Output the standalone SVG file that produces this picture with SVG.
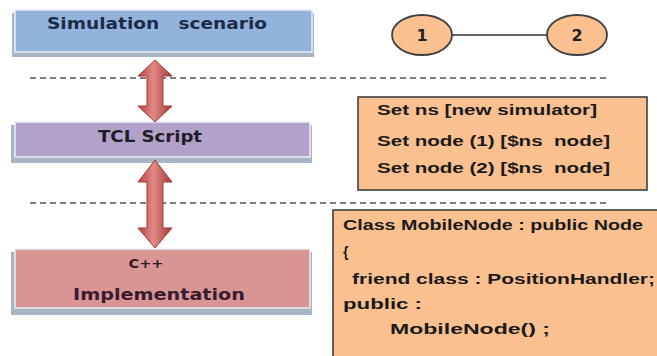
<svg xmlns="http://www.w3.org/2000/svg" width="657" height="356" viewBox="0 0 657 356">
  <defs>
    <linearGradient id="arrowFill" x1="0" y1="0" x2="1" y2="0">
      <stop offset="0" stop-color="#b8413f"/>
      <stop offset="0.45" stop-color="#e08a88"/>
      <stop offset="1" stop-color="#a83835"/>
    </linearGradient>
    <style>
      text { white-space: pre; }
      .layer-shadow { fill: #a7b6c4; }
      .layer { stroke: #e9eef4; stroke-width: 1.5; }
      .sep { stroke: #555; stroke-width: 1.6; stroke-dasharray: 6 4; fill: none; }
      .arrow { fill: url(#arrowFill); stroke: #a33a37; stroke-width: 1; stroke-linejoin: round; }
      .code-box { fill: #fac090; stroke: #3f3f3f; stroke-width: 1.6; }
      .node-shape { fill: #fac090; stroke: #404040; stroke-width: 1.8; }
      .label { font-family: "DejaVu Sans", Verdana, sans-serif; font-weight: bold; text-anchor: middle; }
      .code { font-family: "Liberation Sans", Arial, sans-serif; font-weight: bold; font-size: 14px; fill: #1a1a1a; }
      .num { font-family: "DejaVu Sans", Verdana, sans-serif; font-weight: bold; font-size: 16px; fill: #222; text-anchor: middle; }
    </style>
  </defs>

  <rect width="657" height="356" fill="#ffffff"/>

  <!-- layer separators -->
  <g id="separators">
    <line class="sep" x1="30" y1="78" x2="607" y2="78"/>
    <line class="sep" x1="30" y1="203" x2="607" y2="203"/>
  </g>

  <!-- layers -->
  <g id="simulation-scenario">
    <rect class="layer-shadow" x="12" y="13" width="302" height="44"/>
    <rect class="layer" x="15" y="10" width="297" height="42" fill="#93b3dc"/>
    <text class="label" x="157" y="29" font-size="15" fill="#1d2b4a" textLength="220" lengthAdjust="spacingAndGlyphs">Simulation   scenario</text>
  </g>

  <g id="tcl-script">
    <rect class="layer-shadow" x="11" y="125" width="301" height="38"/>
    <rect class="layer" x="15" y="122" width="295" height="35" fill="#b2a1c8"/>
    <text class="label" x="150" y="142" font-size="15" fill="#1e1e2a" textLength="104" lengthAdjust="spacingAndGlyphs">TCL Script</text>
  </g>

  <g id="cpp-implementation">
    <rect class="layer-shadow" x="11" y="252" width="301" height="63"/>
    <rect class="layer" x="15" y="249" width="295" height="59" fill="#d99594"/>
    <text class="label" x="146" y="268" font-size="13" fill="#2f1a26" textLength="35" lengthAdjust="spacingAndGlyphs">C++</text>
    <text class="label" x="159" y="300" font-size="15" fill="#3a1a2f" textLength="172" lengthAdjust="spacingAndGlyphs">Implementation</text>
  </g>

  <!-- two-way arrows between layers and the link between nodes -->
  <g id="connectors">
    <polygon class="arrow" points="155,60 172,76 163,76 163,106 172,106 155,122 138,106 147,106 147,76 138,76"/>
    <polygon class="arrow" points="155,160 172,182 163,182 163,228 172,228 155,248 138,228 147,228 147,182 138,182"/>
    <line x1="452" y1="35" x2="547" y2="35" stroke="#333" stroke-width="1.5"/>
  </g>

  <!-- network nodes -->
  <g id="node-1">
    <ellipse class="node-shape" cx="422" cy="35" rx="30" ry="20"/>
    <text class="num" x="422" y="41">1</text>
  </g>
  <g id="node-2">
    <ellipse class="node-shape" cx="577" cy="35" rx="30" ry="20"/>
    <text class="num" x="577" y="41">2</text>
  </g>

  <!-- TCL source -->
  <g id="tcl-code">
    <rect class="code-box" x="358" y="97" width="289" height="93"/>
    <text class="code" x="377" y="115" textLength="220" lengthAdjust="spacingAndGlyphs">Set ns [new simulator]</text>
    <text class="code" x="377" y="146" textLength="233" lengthAdjust="spacingAndGlyphs">Set node (1) [$ns  node]</text>
    <text class="code" x="377" y="173" textLength="233" lengthAdjust="spacingAndGlyphs">Set node (2) [$ns  node]</text>
  </g>

  <!-- C++ source -->
  <g id="cpp-code">
    <rect class="code-box" x="333" y="210" width="330" height="150"/>
    <text class="code" x="343" y="230" textLength="300" lengthAdjust="spacingAndGlyphs">Class MobileNode : public Node</text>
    <text class="code" x="343" y="257">{</text>
    <text class="code" x="352" y="284" textLength="303" lengthAdjust="spacingAndGlyphs">friend class : PositionHandler;</text>
    <text class="code" x="343" y="309" textLength="79" lengthAdjust="spacingAndGlyphs">public :</text>
    <text class="code" x="390" y="334" textLength="160" lengthAdjust="spacingAndGlyphs">MobileNode() ;</text>
  </g>
</svg>
